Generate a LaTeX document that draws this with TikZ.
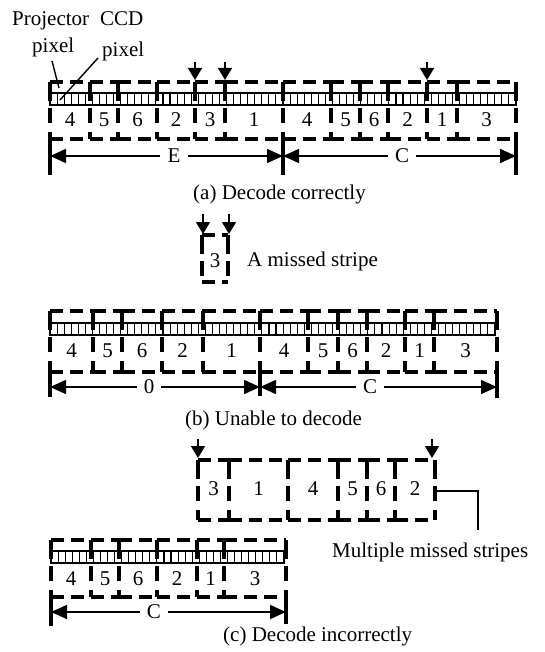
\documentclass[tikz,border=0pt]{standalone}
\usepackage{fontspec}
\setmainfont{Liberation Serif}
\usetikzlibrary{arrows.meta}
\tikzset{
 dh/.style={line width=3.3pt, dash pattern=on 13pt off 7pt},
 dv/.style={line width=3.3pt, dash pattern=on 19pt off 7pt on 15pt off 9pt},
 cellline/.style={line width=1.1pt},
 stripframe/.style={line width=1.8pt, fill=white},
 bar/.style={line width=3.3pt},
 dimarr/.style={line width=1.5pt, -{Triangle[length=16pt,width=14pt]}},
 marker/.style={line width=1.6pt, -{Triangle[length=12pt,width=14pt]}},
 leader/.style={line width=1.4pt},
 txt/.style={font=\fontsize{21}{25}\selectfont, inner sep=0pt},
 dimlab/.style={font=\fontsize{21}{25}\selectfont, inner xsep=7pt, inner ysep=0pt},
}
\newcommand\stripebox[4]{%
  \draw[dh] (#1,#3) -- (#2,#3);
  \draw[dh] (#1,#4) -- (#2,#4);
  \draw[dv] (#1,#3) -- (#1,#4);
  \draw[dv] (#2,#3) -- (#2,#4);}
\newcommand\pixstrip[4]{%
  \draw[stripframe] (#1,#3) rectangle (#2,#3+12);
  \foreach \i in {1,...,#4} \draw[cellline] ({#1+\i/(#4+1)*(#2-#1)},#3) -- ++(0,12);}
\begin{document}
\begin{tikzpicture}[x=1pt,y=-1pt]
\useasboundingbox (0,0) rectangle (544,652);

% ---------- top annotations ----------
\node[txt,anchor=base west] (tproj) at (12,26) {Projector};
\node[txt,anchor=base west] (tpix1) at (32,53) {pixel};
\node[txt,anchor=base west] (tccd) at (100,26) {CCD};
\node[txt,anchor=base west] (tpix2) at (102,57) {pixel};
\coordinate (lp1) at (52,61); \coordinate (lp2) at (59,88);
\coordinate (lc1) at (98,58); \coordinate (lc2) at (60,100);

% ---------- row (a) ----------
\pixstrip{50}{516}{93}{65}
\foreach \xa/\xb/\t in {50/90/4,90/118/5,118/157/6,157/195/2,195/225/3,225/283/1,283/331/4,331/360/5,360/388/6,388/427/2,427/457/1,457/516/3}{
  \stripebox{\xa}{\xb}{82}{139}
  \node[txt,anchor=base] (na\xa) at ({(\xa+\xb)/2},127) {\t};
}
\draw[leader] (lp1) -- (lp2);
\draw[leader] (lc1) -- (lc2);
\foreach \x [count=\k] in {195,225,427}{
  \coordinate (mat\k) at (\x,62); \coordinate (mab\k) at (\x,80);
  \draw[marker] (mat\k) -- (mab\k);
}
\coordinate (aL) at (50,156); \coordinate (aM) at (283,156); \coordinate (aR) at (516,156);
\draw[bar] (50,133) -- (50,175);
\draw[bar] (283,135) -- (283,175);
\draw[bar] (516,135) -- (516,175);
\node[dimlab] (aE) at (174,156) {E};
\node[dimlab] (aC) at (402,156) {C};
\draw[dimarr] (aE) -- (aL);
\draw[dimarr] (aE) -- (aM);
\draw[dimarr] (aC) -- (aM);
\draw[dimarr] (aC) -- (aR);
\node[txt,anchor=base west] (capa) at (193,200) {(a) Decode correctly};

% ---------- missed stripe ----------
\stripebox{202}{228}{235}{282}
\node[txt,anchor=base] (m3) at (215,267) {3};
\foreach \x [count=\k] in {203,229}{
  \coordinate (mbt\k) at (\x,214); \coordinate (mbb\k) at (\x,234);
  \draw[marker] (mbt\k) -- (mbb\k);
}
\node[txt,anchor=base west] (tmiss) at (247,266) {A missed stripe};

% ---------- row (b) ----------
\pixstrip{50}{495}{323}{62}
\foreach \xa/\xb/\t in {50/93/4,93/122/5,122/162/6,162/203/2,203/260/1,260/308/4,308/338/5,338/367/6,367/405/2,405/434/1,434/497/3}{
  \stripebox{\xa}{\xb}{311}{372}
  \node[txt,anchor=base] (nb\xa) at ({(\xa+\xb)/2},357) {\t};
}
\coordinate (bL) at (50,387); \coordinate (bM) at (260,387); \coordinate (bR) at (497,387);
\draw[bar] (50,366) -- (50,397);
\draw[bar] (260,364) -- (260,396);
\draw[bar] (497,366) -- (497,398);
\node[dimlab] (b0) at (149,387) {0};
\node[dimlab] (bC) at (370,387) {C};
\draw[dimarr] (b0) -- (bL);
\draw[dimarr] (b0) -- (bM);
\draw[dimarr] (bC) -- (bM);
\draw[dimarr] (bC) -- (bR);
\node[txt,anchor=base west] (capb) at (185,425) {(b) Unable to decode};

% ---------- row (c) upper ----------
\foreach \xa/\xb/\t in {198/229/3,229/288/1,288/338/4,338/367/5,367/395/6,395/435/2}{
  \stripebox{\xa}{\xb}{460}{520}
  \node[txt,anchor=base] (nc\xa) at ({(\xa+\xb)/2},495) {\t};
}
\foreach \x [count=\k] in {198,432}{
  \coordinate (mct\k) at (\x,439); \coordinate (mcb\k) at (\x,458);
  \draw[marker] (mct\k) -- (mcb\k);
}
\coordinate (ld1) at (437,491); \coordinate (ld2) at (478,491); \coordinate (ld3) at (478,530);
\draw[leader] (ld1) -- (ld2) -- (ld3);
\node[txt,anchor=base west] (tmult) at (332,557) {Multiple missed stripes};

% ---------- row (c) lower ----------
\pixstrip{51}{284}{551}{32}
\foreach \xa/\xb/\t in {51/91/4,91/119/5,119/157/6,157/197/2,197/224/1,224/286/3}{
  \stripebox{\xa}{\xb}{540}{597}
  \node[txt,anchor=base] (nd\xa) at ({(\xa+\xb)/2},585) {\t};
}
\coordinate (cL) at (51,612); \coordinate (cR) at (286,612);
\draw[bar] (51,592) -- (51,626);
\draw[bar] (286,592) -- (286,624);
\node[dimlab] (cC) at (154,612) {C};
\draw[dimarr] (cC) -- (cL);
\draw[dimarr] (cC) -- (cR);
\node[txt,anchor=base west] (capc) at (223,641) {(c) Decode incorrectly};
\end{tikzpicture}
\end{document}
